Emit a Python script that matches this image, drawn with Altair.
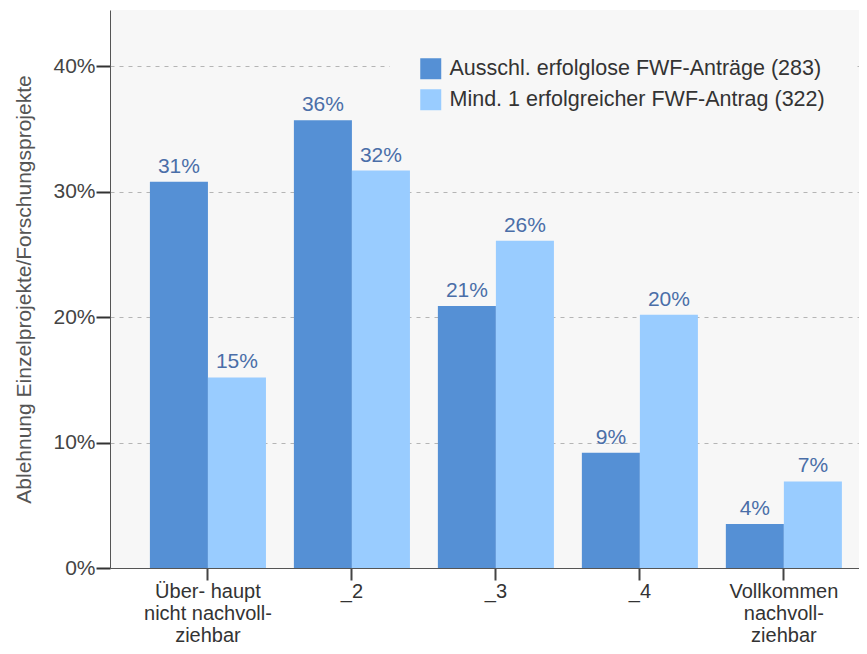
import altair as alt
import pandas as pd

categories = ["Über- haupt\nnicht nachvoll-\nziehbar", "_2", "_3", "_4", "Vollkommen\nnachvoll-\nziehbar"]
series = ["Ausschl. erfolglose FWF-Anträge (283)", "Mind. 1 erfolgreicher FWF-Antrag (322)"]
values_erfolglos = [30.8, 35.7, 20.9, 9.2, 3.5]
values_erfolgreich = [15.2, 31.7, 26.1, 20.2, 6.9]
colors = ["#5590d5", "#99ccff"]
y_ticks = [0, 10, 20, 30, 40]

rows = []
for c, v in zip(categories, values_erfolglos):
    rows.append({"cat": c, "series": series[0], "value": v})
for c, v in zip(categories, values_erfolgreich):
    rows.append({"cat": c, "series": series[1], "value": v})
df = pd.DataFrame(rows)

FONT = "Liberation Sans"

x_enc = alt.X("cat:N", sort=categories,
              scale=alt.Scale(paddingInner=0.194, paddingOuter=0.198, align=0.70),
              axis=alt.Axis(title=None, labelAngle=0, labelExpr="split(datum.label, '\\n')",
                            labelFontSize=20, labelColor="#333333", labelFont=FONT,
                            labelLineHeight=22, labelPadding=1, labelBaseline="top",
                            tickSize=12, tickWidth=2, tickColor="#444444",
                            domainColor="#555555", domainWidth=1, grid=False))
y_enc = alt.Y("value:Q", scale=alt.Scale(domain=[0, 44.5], nice=False, zero=True),
              axis=alt.Axis(title="Ablehnung Einzelprojekte/Forschungsprojekte",
                            values=y_ticks, labelExpr="datum.value + '%'",
                            labelFontSize=21, labelColor="#444444", labelFont=FONT,
                            titleFontSize=21, titleColor="#555555", titleFont=FONT,
                            titleFontWeight="normal", titlePadding=18,
                            tickSize=14, tickWidth=2, tickColor="#333333", labelPadding=1,
                            domainColor="#555555", domainWidth=1,
                            grid=True, gridColor="#b5b5b5", gridDash=[4, 5], gridWidth=1))

base = alt.Chart(df).encode(
    x=x_enc,
    xOffset=alt.XOffset("series:N", sort=series),
)

bars = base.mark_bar().encode(
    y=y_enc,
    color=alt.Color("series:N", sort=series,
                    scale=alt.Scale(domain=series, range=colors),
                    legend=alt.Legend(title=None, orient="none", legendX=280, legendY=18,
                                      symbolType="square", symbolSize=441, symbolStrokeWidth=0,
                                      labelFontSize=21.5, labelColor="#333333", labelFont=FONT,
                                      rowPadding=8, labelOffset=8, labelLimit=500,
                                      fillColor="#f7f7f7", padding=30)),
)

labels = base.mark_text(baseline="bottom", dy=-5, fontSize=21, font=FONT, color="#4a6ea8").encode(
    y=alt.Y("value:Q"),
    text=alt.Text("lbl:N"),
).transform_calculate(lbl="format(datum.value, '.0f') + '%'")

chart = alt.layer(bars, labels).properties(
    width=749, height=558,
    padding={"left": 102, "top": 2, "right": 0, "bottom": 78},
    autosize=alt.AutoSizeParams(type="none"),
).configure_view(fill="#f7f7f7", stroke=None)

chart.save("out.html", embed_options={"renderer": "svg", "actions": False})
